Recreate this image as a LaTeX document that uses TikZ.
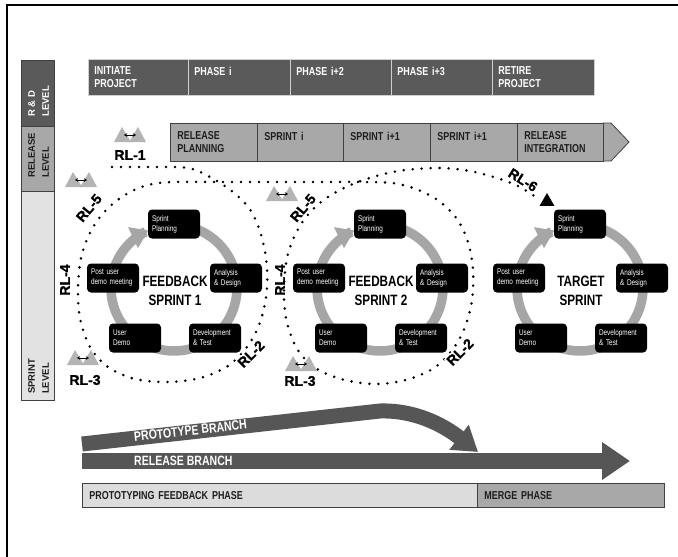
\documentclass[tikz,border=0pt]{standalone}
\usepackage{fontspec}
\setmainfont{Liberation Sans}
\newfontfamily\nar[FakeStretch=0.78]{Liberation Sans}
\newfontfamily\rlfont[FakeBold=1.3]{Liberation Sans Bold}
\usetikzlibrary{arrows.meta,shapes.geometric}
\definecolor{rdgray}{HTML}{5A5A5A}
\definecolor{rdline}{HTML}{D0D0D0}
\definecolor{relgray}{HTML}{A8A8A8}
\definecolor{sprgray}{HTML}{E2E2E2}
\definecolor{edgegray}{HTML}{404040}
\definecolor{txtdark}{HTML}{1E1E1E}
\definecolor{ringgray}{HTML}{A6A6A6}
\definecolor{icongray}{HTML}{B4B4B4}
\definecolor{branchgray}{HTML}{565656}
\definecolor{phlight}{HTML}{DCDCDC}
\begin{document}
\begin{tikzpicture}[x=1pt,y=-1pt,
  rdbox/.style={anchor=north west, fill=rdgray, draw=rdline, line width=0.8pt, minimum height=36pt, inner xsep=6pt, inner ysep=0pt, align=left, text=white, font=\nar\bfseries\fontsize{11.5}{13}\selectfont},
  relbox/.style={anchor=north west, fill=relgray, draw=edgegray, line width=0.8pt, minimum height=38pt, inner xsep=7pt, inner ysep=0pt, align=left, text=txtdark, font=\nar\bfseries\fontsize{11.5}{13}\selectfont},
  lvbox/.style={anchor=north west, minimum width=33pt, draw=edgegray, line width=0.6pt, inner sep=0pt},
  lvtxt/.style={rotate=90, anchor=north west, align=left, inner sep=0pt, font=\bfseries\fontsize{9.5}{14}\selectfont},
  sbox/.style={fill=black, rounded corners=4pt, text=white, text width=44pt, inner xsep=4pt, minimum height=29pt, align=left, font=\nar\fontsize{8.2}{10}\selectfont},
  ctr/.style={align=center, inner sep=0pt, font=\nar\bfseries\fontsize{15}{19}\selectfont},
  rl/.style={inner sep=1pt, font=\rlfont\fontsize{14}{14}\selectfont},
  ring/.style={draw=ringgray, line width=9.5pt, -{Triangle[width=22pt,length=17pt]}},
  dots/.style={line width=2.8pt, line cap=round, dash pattern=on 0pt off 9pt},
  tri/.style={regular polygon, regular polygon sides=3, fill=black, minimum size=17pt, inner sep=0pt},
  branch/.style={draw=branchgray},
  brtxt/.style={anchor=west, inner sep=0pt, text=white, font=\nar\bfseries\fontsize{13.5}{14}\selectfont},
  phbox/.style={anchor=north west, draw=edgegray, line width=0.8pt, minimum height=24pt, inner xsep=7pt, inner ysep=0pt, align=left, text=txtdark, font=\nar\bfseries\fontsize{11.5}{13}\selectfont},
  mtn/.pic={
    \fill[icongray] (-16,0) -- (-8,-15) -- (1,0) -- cycle;
    \fill[icongray] (-1,0) -- (8,-15) -- (16,0) -- cycle;
    \draw[line width=0.9pt, {Stealth[length=3pt,width=3.5pt]}-{Stealth[length=3pt,width=3.5pt]}] (-6,-7) -- (6,-7);
  }
]
\useasboundingbox (0,0) rectangle (678,557);
\fill[white] (0,0) rectangle (678,557);
% frame
\draw[line width=2pt] (7,557) -- (7,5) -- (678,5);

% level sidebar
\node[lvbox, fill=rdgray, minimum height=66pt] (lvrd) at (21,60) {};
\node[lvbox, fill=relgray, minimum height=65pt] (lvrel) at (21,126) {};
\node[lvbox, fill=sprgray, minimum height=209pt] (lvspr) at (21,191) {};
\node[lvtxt, text=white] (lvrdt) at (28,117) {R \& D\\LEVEL};
\node[lvtxt, text=txtdark] (lvrelt) at (28,178) {RELEASE\\LEVEL};
\node[lvtxt, text=txtdark] (lvsprt) at (28,394) {SPRINT\\LEVEL};

% R&D row
\node[rdbox, text width=88pt] (rd1) at (88,59) {INITIATE\\PROJECT};
\node[rdbox, text width=90pt] (rd2) at (188,59) {PHASE i\\\mbox{}};
\node[rdbox, text width=89pt] (rd3) at (290,59) {PHASE i+2\\\mbox{}};
\node[rdbox, text width=89pt] (rd4) at (391,59) {PHASE i+3\\\mbox{}};
\node[rdbox, text width=90pt] (rd5) at (492,59) {RETIRE\\PROJECT};

% release row
\fill[relgray, draw=edgegray, line width=0.8pt] (603,123) -- (611,123) -- (629,142) -- (611,161) -- (603,161) -- cycle;
\node[relbox, text width=73pt] (re1) at (170,123) {RELEASE\\PLANNING};
\node[relbox, text width=72pt] (re2) at (257,123) {SPRINT i\\\mbox{}};
\node[relbox, text width=73pt] (re3) at (343,123) {SPRINT i+1\\\mbox{}};
\node[relbox, text width=73pt] (re4) at (430,123) {SPRINT i+1\\\mbox{}};
\node[relbox, text width=72pt] (re5) at (517,123) {RELEASE\\INTEGRATION};

% dotted spiral path (release loops)
\coordinate (d0) at (112,167);
\node[tri] (d1) at (547,201.5) {};
\draw[dots] plot[smooth, tension=0.55] coordinates {(d0) (150,167) (188,168) (210,177) (233,192) (251,211) (262,238) (267,268) (266,298) (259,325) (247,347) (228,366) (200,378) (168,382) (135,379) (108,367) (90,347) (80,318) (78,288) (81,258) (89,235) (100,217) (115,202) (132,191) (152,184) (175,182) (220,182) (280,182) (330,182) (360,182) (392,183) (416,189) (439,201) (457,219) (468,242) (473,270) (472,300) (465,327) (453,349) (434,368) (406,380) (374,384) (341,379) (314,367) (296,347) (286,318) (284,288) (287,258) (295,235) (306,217) (321,202) (338,191) (358,182) (380,175) (405,170) (440,168) (470,171) (500,179) (520,187) (537,198)};

% sprint cycles
\foreach \cx/\nm/\lab in {174/a/{FEEDBACK\\SPRINT 1}, 380/b/{FEEDBACK\\SPRINT 2}, 580/c/{TARGET\\SPRINT}}{
  \draw[ring] plot[domain=-90:246, samples=90, smooth, variable=\t] ({\cx+63*cos(\t)},{288+63*sin(\t)});
  \node[sbox] (sp\nm) at (\cx,224) {Sprint\\Planning};
  \node[sbox] (ad\nm) at (\cx+62,278) {Analysis\\\& Design};
  \node[sbox] (dt\nm) at (\cx+41,338) {Development\\\& Test};
  \node[sbox] (ud\nm) at (\cx-39,338) {User\\Demo};
  \node[sbox] (pu\nm) at (\cx-61,278) {Post user\\demo meeting};
  \node[ctr] (ct\nm) at (\cx+1,291) {\lab};
}

% RL icons and labels
\pic at (130,142) {mtn};
\pic at (81,187) {mtn};
\pic at (83,365) {mtn};
\pic at (282,201) {mtn};
\pic at (301,371) {mtn};
\node[rl] (rl1) at (130,155) {RL-1};
\node[rl, rotate=50, fill=white] (rl5a) at (89,208) {RL-5};
\node[rl, rotate=90] (rl4a) at (65,280) {RL-4};
\node[rl] (rl3a) at (85,380) {RL-3};
\node[rl, rotate=45, fill=white] (rl2a) at (251,354) {RL-2};
\node[rl, rotate=50, fill=white] (rl5b) at (303,208) {RL-5};
\node[rl, rotate=90] (rl4b) at (280,280) {RL-4};
\node[rl] (rl3b) at (300,381) {RL-3};
\node[rl, rotate=45, fill=white] (rl2b) at (460,352) {RL-2};
\node[rl, rotate=-32, fill=white] (rl6) at (523,180) {RL-6};

% branches
\coordinate (pb0) at (82,444);
\coordinate (pb1) at (380,411);
\coordinate (pbt) at (478,452);
\coordinate (rb0) at (82,461);
\coordinate (rbt) at (630,461);
\draw[branch, line width=16pt, -{Triangle[width=36pt,length=28pt]}] (rb0) -- (rbt);
\draw[branch, line width=15pt, -{Triangle[width=30pt,length=24pt]}] (pb0) -- (pb1) .. controls (414,410) and (442,424) .. (pbt);
\node[brtxt, rotate=6.5] (pbtxt) at (134,437) {PROTOTYPE BRANCH};
\node[brtxt] (rbtxt) at (134,461) {RELEASE BRANCH};

% phases
\node[phbox, fill=phlight, text width=381pt] (ph1) at (82,483) {PROTOTYPING FEEDBACK PHASE};
\node[phbox, fill=relgray, text width=173pt] (ph2) at (477,483) {MERGE PHASE};
\end{tikzpicture}
\end{document}
